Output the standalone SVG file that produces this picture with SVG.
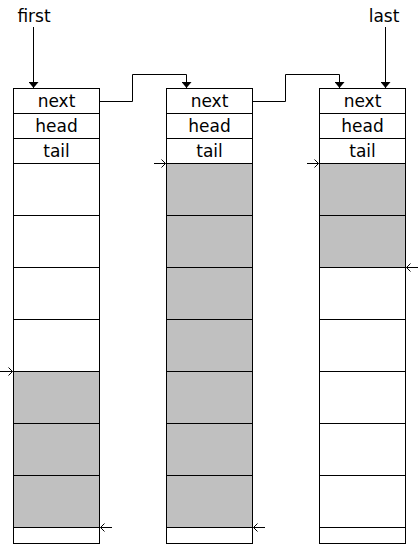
<svg xmlns="http://www.w3.org/2000/svg" width="420" height="549" viewBox="0 0 420 549">
<style>
.cell{fill:#fff;stroke:#000;stroke-width:1}
.used{fill:#c0c0c0;stroke:#000;stroke-width:1}
.lbl{font-family:"DejaVu Sans",sans-serif;font-size:17px;text-anchor:middle;fill:#000}
.conn{fill:none;stroke:#000;stroke-width:1}
.ptr{fill:none;stroke:#000;stroke-width:1}
</style>
<defs>
<marker id="tri" markerWidth="6" markerHeight="10" refX="6" refY="5" orient="auto" markerUnits="userSpaceOnUse" viewBox="0 0 6 10">
<path d="M0,0 L6,5 L0,10 Z" fill="#000"/>
</marker>
<g id="chev"><path d="M-4,-4 L0,0 L-4,4" fill="none" stroke="#000" stroke-width="1"/></g>
</defs>
<rect width="420" height="549" fill="#fff"/>

<g id="block1">
<rect class="cell" x="13.5" y="88.5" width="86" height="25"/>
<rect class="cell" x="13.5" y="113.5" width="86" height="25"/>
<rect class="cell" x="13.5" y="138.5" width="86" height="25"/>
<rect class="cell" x="13.5" y="163.5" width="86" height="52"/>
<rect class="cell" x="13.5" y="215.5" width="86" height="52"/>
<rect class="cell" x="13.5" y="267.5" width="86" height="52"/>
<rect class="cell" x="13.5" y="319.5" width="86" height="52"/>
<rect class="used" x="13.5" y="371.5" width="86" height="52"/>
<rect class="used" x="13.5" y="423.5" width="86" height="52"/>
<rect class="used" x="13.5" y="475.5" width="86" height="52"/>
<rect class="cell" x="13.5" y="527.5" width="86" height="16"/>
<text class="lbl" x="56.5" y="107">next</text>
<text class="lbl" x="56.5" y="132">head</text>
<text class="lbl" x="56.5" y="157">tail</text>
</g>

<g id="block2">
<rect class="cell" x="166.5" y="88.5" width="86" height="25"/>
<rect class="cell" x="166.5" y="113.5" width="86" height="25"/>
<rect class="cell" x="166.5" y="138.5" width="86" height="25"/>
<rect class="used" x="166.5" y="163.5" width="86" height="52"/>
<rect class="used" x="166.5" y="215.5" width="86" height="52"/>
<rect class="used" x="166.5" y="267.5" width="86" height="52"/>
<rect class="used" x="166.5" y="319.5" width="86" height="52"/>
<rect class="used" x="166.5" y="371.5" width="86" height="52"/>
<rect class="used" x="166.5" y="423.5" width="86" height="52"/>
<rect class="used" x="166.5" y="475.5" width="86" height="52"/>
<rect class="cell" x="166.5" y="527.5" width="86" height="16"/>
<text class="lbl" x="209.5" y="107">next</text>
<text class="lbl" x="209.5" y="132">head</text>
<text class="lbl" x="209.5" y="157">tail</text>
</g>

<g id="block3">
<rect class="cell" x="319.5" y="88.5" width="86" height="25"/>
<rect class="cell" x="319.5" y="113.5" width="86" height="25"/>
<rect class="cell" x="319.5" y="138.5" width="86" height="25"/>
<rect class="used" x="319.5" y="163.5" width="86" height="52"/>
<rect class="used" x="319.5" y="215.5" width="86" height="52"/>
<rect class="cell" x="319.5" y="267.5" width="86" height="52"/>
<rect class="cell" x="319.5" y="319.5" width="86" height="52"/>
<rect class="cell" x="319.5" y="371.5" width="86" height="52"/>
<rect class="cell" x="319.5" y="423.5" width="86" height="52"/>
<rect class="cell" x="319.5" y="475.5" width="86" height="52"/>
<rect class="cell" x="319.5" y="527.5" width="86" height="16"/>
<text class="lbl" x="362.5" y="107">next</text>
<text class="lbl" x="362.5" y="132">head</text>
<text class="lbl" x="362.5" y="157">tail</text>
</g>

<g id="label-first"><text class="lbl" x="34" y="22">first</text></g>
<g id="label-last"><text class="lbl" x="384" y="22">last</text></g>

<g id="connectors">
<path class="conn" d="M33.5,27 V88" marker-end="url(#tri)"/>
<path class="conn" d="M385.5,27 V88" marker-end="url(#tri)"/>
<path class="conn" d="M99.5,101.5 H132.5 V74.5 H186.5 V88" marker-end="url(#tri)"/>
<path class="conn" d="M252.5,101.5 H285.5 V74.5 H339.5 V88" marker-end="url(#tri)"/>
<g class="ptr">
<path d="M0,371.5 H12.5"/><use href="#chev" x="12.5" y="371.5"/>
<path d="M154,163.5 H165.5"/><use href="#chev" x="165.5" y="163.5"/>
<path d="M307,163.5 H318.5"/><use href="#chev" x="318.5" y="163.5"/>
<path d="M112,527.5 H100.5"/><use href="#chev" transform="translate(100.5,527.5) rotate(180)"/>
<path d="M265,527.5 H253.5"/><use href="#chev" transform="translate(253.5,527.5) rotate(180)"/>
<path d="M418,267.5 H406.5"/><use href="#chev" transform="translate(406.5,267.5) rotate(180)"/>
</g>
</g>
</svg>
